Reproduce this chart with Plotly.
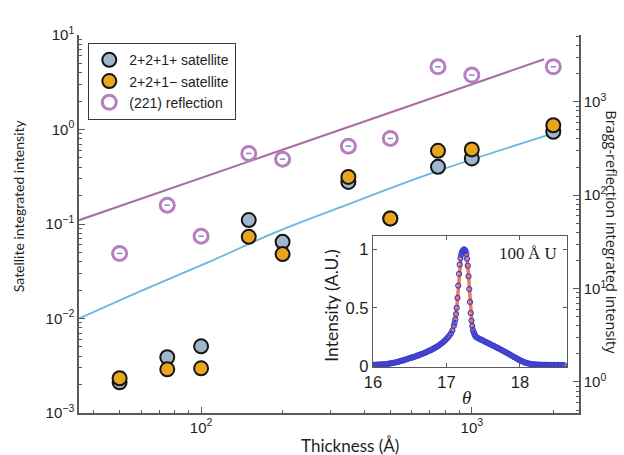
import plotly.graph_objects as go

# ---- Main panel data: thickness series ----
thickness = [50, 75, 100, 150, 200, 350, 500, 750, 1000, 2000]
sat_plus = [0.00211, 0.00389, 0.00508, 0.110, 0.0647, 0.279, 0.114, 0.403, 0.494, 0.946]
sat_minus = [0.00233, 0.0029, 0.00297, 0.0731, 0.048, 0.315, 0.1146, 0.595, 0.616, 1.11]
bragg_221 = [23.8, 78.2, 36.4, 280, 243, 335, 405, 2372, 1932, 2372]

# model curves
bragg_fit_thk = [35.4, 1850]
bragg_fit = [54, 2850]
sat_fit_thk = [35.4, 61, 107, 189, 326, 764, 2000]
sat_fit = [0.0100, 0.0200, 0.0397, 0.0820, 0.150, 0.371, 0.91]

# ---- Inset data: rocking curve, 100 Å U ----
theta = [
    16.00, 16.02, 16.04, 16.06, 16.08, 16.10, 16.12, 16.14, 16.16, 16.18,
    16.20, 16.22, 16.24, 16.26, 16.28, 16.30, 16.32, 16.34, 16.36, 16.38,
    16.40, 16.42, 16.44, 16.46, 16.48, 16.50, 16.52, 16.54, 16.56, 16.58,
    16.60, 16.62, 16.64, 16.66, 16.68, 16.70, 16.72, 16.74, 16.76, 16.78,
    16.80, 16.82, 16.84, 16.86, 16.88, 16.90, 16.92, 16.94, 16.96, 16.98,
    17.00, 17.02, 17.04, 17.06, 17.08,
    17.10, 17.11, 17.12, 17.13, 17.14, 17.15, 17.16, 17.17, 17.18, 17.19,
    17.20, 17.21, 17.22, 17.23, 17.24, 17.25, 17.26, 17.27, 17.28, 17.29,
    17.30, 17.31, 17.32, 17.33, 17.34, 17.35, 17.36, 17.37, 17.38, 17.39,
    17.40, 17.42, 17.44, 17.46, 17.48, 17.50, 17.52, 17.54, 17.56, 17.58,
    17.60, 17.62, 17.64, 17.66, 17.68, 17.70, 17.72, 17.74, 17.76, 17.78,
    17.80, 17.82, 17.84, 17.86, 17.88, 17.90, 17.92, 17.94, 17.96, 17.98,
    18.00, 18.02, 18.04, 18.06, 18.08, 18.10, 18.12, 18.14, 18.16, 18.18,
    18.20, 18.22, 18.24, 18.26, 18.28, 18.30, 18.32, 18.34, 18.36, 18.38,
    18.40, 18.42, 18.44, 18.46, 18.48, 18.50, 18.52, 18.54, 18.56, 18.58,
    18.60,
]
intensity = [
    0.010, 0.011, 0.010, 0.012, 0.013, 0.012, 0.014, 0.016, 0.015, 0.018,
    0.020, 0.021, 0.023, 0.025, 0.028, 0.031, 0.034, 0.037, 0.041, 0.044,
    0.048, 0.052, 0.056, 0.060, 0.064, 0.068, 0.072, 0.076, 0.080, 0.084,
    0.089, 0.093, 0.098, 0.103, 0.108, 0.113, 0.118, 0.124, 0.130, 0.136,
    0.142, 0.149, 0.156, 0.163, 0.171, 0.179, 0.188, 0.198, 0.209, 0.220,
    0.233, 0.247, 0.262, 0.280, 0.305,
    0.345, 0.370, 0.400, 0.445, 0.500, 0.585, 0.690, 0.790, 0.870, 0.925,
    0.955, 0.975, 0.985, 0.995, 1.000, 0.995, 0.985, 0.960, 0.920, 0.860,
    0.770, 0.660, 0.550, 0.455, 0.390, 0.345, 0.310, 0.290, 0.275, 0.262,
    0.252, 0.243, 0.236, 0.230, 0.224, 0.218, 0.211, 0.205, 0.199, 0.192,
    0.186, 0.180, 0.174, 0.167, 0.161, 0.155, 0.148, 0.141, 0.135, 0.128,
    0.121, 0.114, 0.107, 0.100, 0.093, 0.085, 0.078, 0.071, 0.064, 0.057,
    0.050, 0.044, 0.038, 0.033, 0.029, 0.025, 0.022, 0.019, 0.017, 0.016,
    0.014, 0.013, 0.012, 0.012, 0.011, 0.011, 0.010, 0.010, 0.011, 0.010,
    0.009, 0.010, 0.009, 0.010, 0.009, 0.009, 0.010, 0.009, 0.008, 0.009,
    0.008,
]

# ---- Styling ----
TICK_FONT = dict(family="Liberation Sans, Arial, sans-serif", size=15, color="#1e1e1e")
INSET_TICK_FONT = dict(family="Liberation Sans, Arial, sans-serif", size=16.5, color="#1e1e1e")
TITLE_FONT = dict(family="Lato, Open Sans, sans-serif", size=14, color="#1e1e1e")
AXIS_COLOR = "#5a5a5a"
BLUE_FILL = "#9fb7cd"
ORANGE_FILL = "#e9a51e"
PURPLE = "#b67fc0"
PURPLE_LINE = "#a96ca6"
SKY_LINE = "#6db6de"
INSET_BLUE = "#3b3fd2"


def log_minor(lo, hi):
    return [m * 10.0 ** d for d in range(lo, hi) for m in range(2, 10)]


def sup(p):
    return "10<sup>%s</sup>" % (str(p) if p >= 0 else "\u2212" + str(-p))


fig = go.Figure()

# model curves
fig.add_trace(go.Scatter(x=bragg_fit_thk, y=bragg_fit, mode="lines", yaxis="y2",
                         line=dict(color=PURPLE_LINE, width=2), showlegend=False,
                         hoverinfo="skip"))
fig.add_trace(go.Scatter(x=sat_fit_thk, y=sat_fit, mode="lines",
                         line=dict(color=SKY_LINE, width=1.8, shape="spline"),
                         showlegend=False, hoverinfo="skip"))

# satellites
fig.add_trace(go.Scatter(x=thickness, y=sat_plus, mode="markers", name="2+2+1+ satellite",
                         marker=dict(size=14, color=BLUE_FILL,
                                     line=dict(color="#151515", width=2))))
fig.add_trace(go.Scatter(x=thickness, y=sat_minus, mode="markers", name="2+2+1\u2212 satellite",
                         marker=dict(size=14, color=ORANGE_FILL,
                                     line=dict(color="#151515", width=2))))

# (221) Bragg reflection, right axis
fig.add_trace(go.Scatter(x=thickness, y=bragg_221, mode="markers", name="(221) reflection",
                         yaxis="y2",
                         marker=dict(symbol="circle-open", size=14, color=PURPLE,
                                     line=dict(color=PURPLE, width=3))))
fig.add_trace(go.Scatter(x=thickness, y=bragg_221, mode="markers", yaxis="y2",
                         marker=dict(symbol="line-ew", size=4, color="#8a8fcf",
                                     line=dict(color="#8a8fcf", width=1.6)),
                         showlegend=False, hoverinfo="skip"))

# inset: fit line and measured points
fig.add_trace(go.Scatter(x=theta, y=intensity, mode="lines", xaxis="x3", yaxis="y3",
                         line=dict(color="#f07a55", width=3.5), showlegend=False))
fig.add_trace(go.Scatter(x=theta, y=intensity, mode="markers", xaxis="x3", yaxis="y3",
                         marker=dict(symbol="circle-open", size=5, color=INSET_BLUE,
                                     line=dict(color=INSET_BLUE, width=1.2)),
                         showlegend=False))

xr = [1.549, 3.396]
common_log = dict(type="log", showgrid=False, zeroline=False, showline=True,
                  linecolor=AXIS_COLOR, linewidth=1.5, ticks="inside", ticklen=6,
                  tickwidth=1.2, tickcolor=AXIS_COLOR, tickfont=TICK_FONT,
                  tickmode="array")

fig.update_layout(
    width=624, height=455,
    margin=dict(l=79, r=45, t=35, b=42, pad=0),
    paper_bgcolor="white", plot_bgcolor="white",
    xaxis=dict(**common_log, range=xr, domain=[0, 1], anchor="y", side="bottom",
               tickvals=[100, 1000], ticktext=[sup(2), sup(3)],
               minor=dict(tickmode="array", tickvals=log_minor(1, 4), ticks="inside",
                          ticklen=3, tickcolor=AXIS_COLOR)),
    xaxis4=dict(**common_log, range=xr, overlaying="x", anchor="y", side="top",
                tickvals=[100, 1000], ticktext=[sup(2), sup(3)],
                minor=dict(tickmode="array", tickvals=log_minor(1, 4), ticks="inside",
                           ticklen=3, tickcolor=AXIS_COLOR)),
    yaxis=dict(**common_log, range=[-3, 1], domain=[0, 1], anchor="x", side="left",
               tickvals=[1e-3, 1e-2, 1e-1, 1, 10],
               ticktext=[sup(-3), sup(-2), sup(-1), sup(0), sup(1)],
               minor=dict(tickmode="array", tickvals=log_minor(-3, 1), ticks="inside",
                          ticklen=3, tickcolor=AXIS_COLOR)),
    yaxis2=dict(**common_log, range=[-0.332, 3.715], overlaying="y", anchor="x",
                side="right",
                tickvals=[1, 10, 100, 1000],
                ticktext=[sup(0), sup(1), sup(2), sup(3)],
                minor=dict(tickmode="array", tickvals=log_minor(-1, 4), ticks="inside",
                           ticklen=3, tickcolor=AXIS_COLOR)),
    xaxis3=dict(domain=[0.588, 0.976], anchor="y3", range=[16.0, 18.64],
                showgrid=False, zeroline=False, showline=True, mirror="ticks",
                linecolor=AXIS_COLOR, linewidth=1.3, ticks="inside", ticklen=4,
                tickcolor=AXIS_COLOR, tickvals=[16, 17, 18], ticktext=["16", "17", "18"],
                tickfont=INSET_TICK_FONT),
    yaxis3=dict(domain=[0.121, 0.468], anchor="x3", range=[-0.01, 1.114],
                showgrid=False, zeroline=False, showline=True, mirror="ticks",
                linecolor=AXIS_COLOR, linewidth=1.3, ticks="inside", ticklen=4,
                tickcolor=AXIS_COLOR, tickvals=[0, 0.5, 1], ticktext=["0", "0.5", "1"],
                tickfont=INSET_TICK_FONT),
    legend=dict(x=0.018, y=0.979, xanchor="left", yanchor="top",
                bgcolor="white", bordercolor="#3a3a3a", borderwidth=1.3,
                font=dict(family="Liberation Sans, Arial, sans-serif", size=14,
                          color="#1e1e1e"),
                tracegroupgap=0, itemwidth=30),
    showlegend=True,
)

annotations = [
    dict(text="Thickness (\u00c5)", x=0.542, y=-0.0855, textangle=0,
         font=dict(TITLE_FONT, size=17)),
    dict(text="Satellite integrated intensity", x=-0.122, y=0.547, textangle=-90,
         font=TITLE_FONT),
    dict(text="Bragg-reflection integrated intensity", x=1.066, y=0.478, textangle=90,
         font=dict(family="Open Sans, Lato, sans-serif", size=14.5, color="#1e1e1e")),
    dict(text="<i>\u03b8</i>", x=0.775, y=0.042, textangle=0,
         font=dict(family="Liberation Serif, DejaVu Serif, serif", size=19, color="#1e1e1e")),
    dict(text="Intensity (A.U.)", x=0.506, y=0.284, textangle=-90,
         font=dict(family="Lato, Open Sans, sans-serif", size=17.5, color="#1e1e1e")),
    dict(text="100\u2009\u00c5 U", x=0.897, y=0.423, textangle=0,
         font=dict(family="Liberation Serif, DejaVu Serif, serif", size=17, color="#1e1e1e")),
]
for a in annotations:
    fig.add_annotation(xref="paper", yref="paper", showarrow=False,
                       xanchor="center", yanchor="middle", **a)

fig.write_html("out.html")
